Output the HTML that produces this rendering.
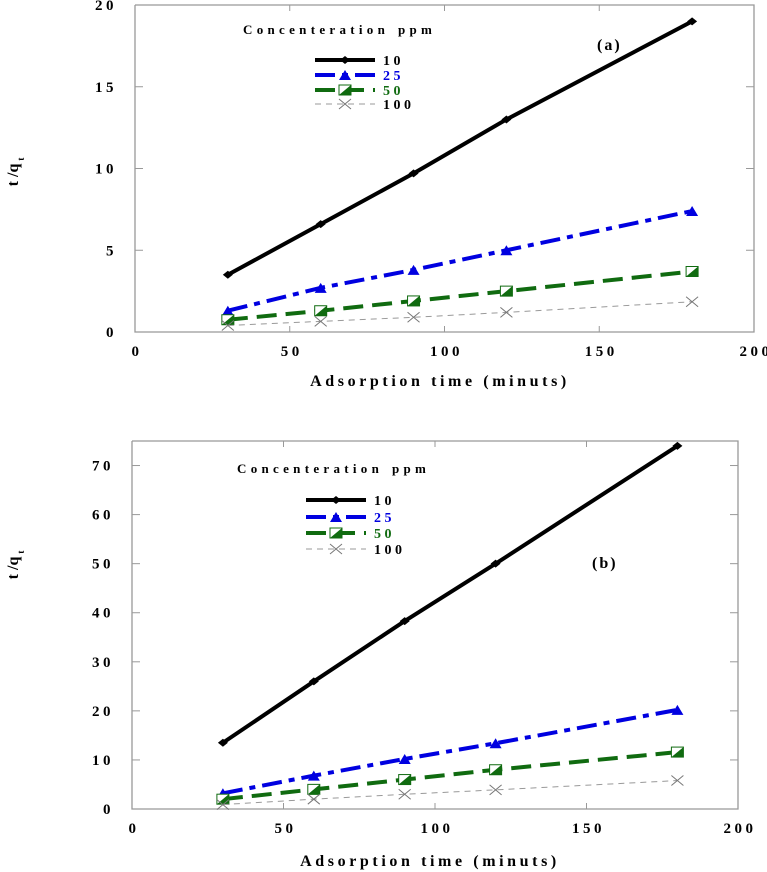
<!DOCTYPE html>
<html><head><meta charset="utf-8"><style>
body{margin:0;background:#fff}
svg{display:block;font-family:"Liberation Serif",serif;font-weight:bold}
</style></head><body>
<svg id="s" width="767" height="872"></svg>
<script>
const xVals=[30,60,90,120,180];
const aBlack=[3.5,6.6,9.7,13.0,19.0];
const aBlue=[1.3,2.7,3.8,5.0,7.4];
const aGreen=[0.75,1.3,1.9,2.5,3.7];
const aGray=[0.4,0.65,0.9,1.2,1.85];
const bBlack=[13.5,26,38.3,50,74];
const bBlue=[3.2,6.8,10.2,13.4,20.2];
const bGreen=[2,4,6,8,11.6];
const bGray=[0.9,2,3,3.9,5.8];
const xTicks=[0,50,100,150,200];
const aYTicks=[0,5,10,15,20];
const bYTicks=[0,10,20,30,40,50,60,70];
const legendLabels=["10","25","50","100"];
const NS="http://www.w3.org/2000/svg";
const svg=document.getElementById('s');
function mk(t,a,p){const e=document.createElementNS(NS,t);for(const k in a)e.setAttribute(k,a[k]);(p||svg).appendChild(e);return e;}
const styles=[
 {c:"#000",w:4,d:"",lc:"#000",m:"diamond"},
 {c:"#0000e0",w:4,d:"20 7 6 7",lc:"#0000e0",m:"tri"},
 {c:"#106b10",w:4,d:"20 9",lc:"#106b10",m:"sq"},
 {c:"#999",w:1,d:"6 5",lc:"#000",m:"x"}];
function marker(g,m,x,y,c){
 if(m=="diamond")mk('path',{d:`M${x-5} ${y}L${x} ${y-4}L${x+5} ${y}L${x} ${y+4}Z`,fill:"#000"},g);
 else if(m=="tri")mk('path',{d:`M${x-6} ${y+5}L${x} ${y-5}L${x+6} ${y+5}Z`,fill:c},g);
 else if(m=="sq"){mk('rect',{x:x-6,y:y-5,width:12,height:10,fill:"#fff",stroke:c,"stroke-width":1},g);mk('path',{d:`M${x-6} ${y+5}L${x+6} ${y-5}L${x+6} ${y+5}Z`,fill:c},g);}
 else mk('path',{d:`M${x-6} ${y-5}L${x+6} ${y+5}M${x-6} ${y+5}L${x+6} ${y-5}`,stroke:"#777","stroke-width":1},g);
}
function chart(o){
 const g=mk('g',{});
 
 
 const X=v=>o.x0+(o.x1-o.x0)*v/200, Y=v=>o.y0-(o.y0-o.y1)*v/o.ymax;
 const fr=mk('path',{d:`M${o.x0} ${o.y1}V${o.y0}H${o.x1}V${o.y1}H${o.x0}`,fill:"none",stroke:"#999","stroke-width":1.3},g);
 
 xTicks.forEach(t=>{const x=X(t);
  if(t>0&&t<200){mk('line',{x1:x,x2:x,y1:o.y1,y2:o.y1+6,stroke:"#999"},g);mk('line',{x1:x,x2:x,y1:o.y0,y2:o.y0-6,stroke:"#999"},g);}
  const tx=mk('text',{x:x+2,y:o.y0+24,"text-anchor":"middle","font-size":15,"letter-spacing":3.5},g);tx.textContent=t;
  });
 o.yt.forEach(t=>{const y=Y(t);
  mk('line',{x1:o.x0,x2:o.x0+8,y1:y,y2:y,stroke:"#999"},g);mk('line',{x1:o.x1,x2:o.x1-8,y1:y,y2:y,stroke:"#999"},g);
  const tx=mk('text',{x:o.x0-18,y:y+5,"text-anchor":"end","font-size":15,"letter-spacing":3.5},g);tx.textContent=t;
  });
 o.series.forEach((s,i)=>{const st=styles[i];
  const pts=xVals.map((v,j)=>X(v)+","+Y(s[j])).join(" ");
  const pl=mk('polyline',{points:pts,fill:"none",stroke:st.c,"stroke-width":st.w,"stroke-dasharray":st.d},g);
  
  xVals.forEach((v,j)=>marker(g,st.m,X(v),Y(s[j]),st.c));
  const ly=o.ly[i];
  mk('line',{x1:o.lx,x2:o.lx+60,y1:ly,y2:ly,stroke:st.c,"stroke-width":st.w,"stroke-dasharray":st.d},g);
  marker(g,st.m,o.lx+30,ly,st.c);
  const lt=mk('text',{x:o.lx+68,y:ly+5,"font-size":14,"letter-spacing":3.5,fill:st.lc},g);lt.textContent=legendLabels[i];
  
 });
 const tt=mk('text',{x:o.tx,y:o.ty,"font-size":13,"letter-spacing":4.3},g);tt.textContent="Concenteration";
 
 const pp=mk('text',{x:o.tx+155,y:o.ty,"font-size":13,"letter-spacing":4.3},g);pp.textContent="ppm";
 
 const pl=mk('text',{x:o.px,y:o.py,"font-size":16,"letter-spacing":2},g);pl.textContent=o.panel;
 
 const xt=mk('text',{x:o.xtx,y:o.xty,"text-anchor":"middle","font-size":16,"letter-spacing":3.6},g);xt.textContent="Adsorption time (minuts)";
 
 const yt=mk('text',{transform:`translate(18,${o.yty}) rotate(-90)`,"text-anchor":"middle","font-size":16},g);
 yt.innerHTML='t /q<tspan dy="6" dx="3" font-size="9">t</tspan>';
 
}
chart({name:"chart-a",x0:135,x1:754,y0:332,y1:5,ymax:20,yt:aYTicks,series:[aBlack,aBlue,aGreen,aGray],
 lx:315,ly:[60,75,90,104],tx:243,ty:34,px:597,py:50,panel:"(a)",xtx:440,xty:386,yty:172});
chart({name:"chart-b",x0:132,x1:738,y0:809,y1:441,ymax:75,yt:bYTicks,series:[bBlack,bBlue,bGreen,bGray],
 lx:306,ly:[500,517,533,549],tx:237,ty:473,px:592,py:568,panel:"(b)",xtx:430,xty:866,yty:565});
</script>
</body></html>
